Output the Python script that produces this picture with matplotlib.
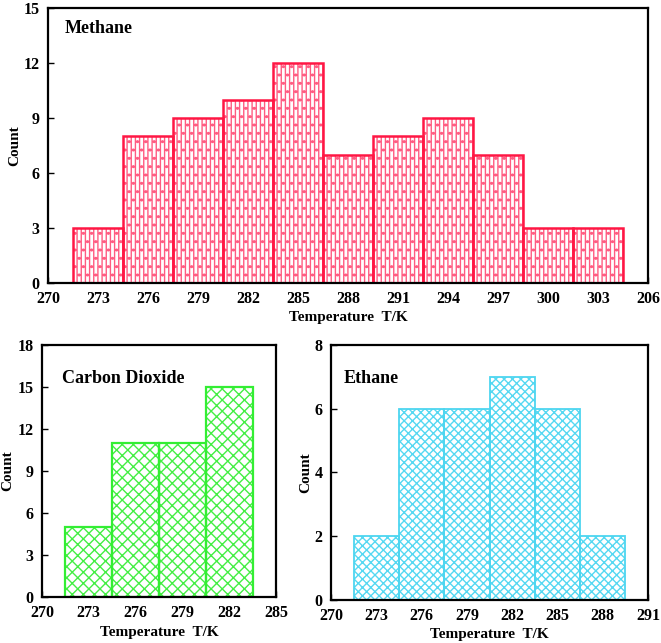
import matplotlib
matplotlib.use("Agg")
import matplotlib.pyplot as plt

plt.rcParams['font.family'] = ['Liberation Serif', 'DejaVu Serif']
plt.rcParams['font.weight'] = 'bold'
plt.rcParams['hatch.linewidth'] = 1.0

# Data
methane_temps = [273, 276, 279, 282, 285, 288, 291, 294, 297, 300, 303]
methane_counts = [3, 8, 9, 10, 12, 7, 8, 9, 7, 3, 3]
methane_xticks = [270, 273, 276, 279, 282, 285, 288, 291, 294, 297, 300, 303, 306]
methane_xticklabels = ['270', '273', '276', '279', '282', '285', '288', '291', '294', '297', '300', '303', '206']
methane_yticks = [0, 3, 6, 9, 12, 15]

co2_temps = [273, 276, 279, 282]
co2_counts = [5, 11, 11, 15]
co2_xticks = [270, 273, 276, 279, 282, 285]
co2_yticks = [0, 3, 6, 9, 12, 15, 18]

ethane_temps = [273, 276, 279, 282, 285, 288]
ethane_counts = [2, 6, 6, 7, 6, 2]
ethane_xticks = [270, 273, 276, 279, 282, 285, 288, 291]
ethane_yticks = [0, 2, 4, 6, 8]

BIN = 3

fig = plt.figure(figsize=(6.61, 6.43), dpi=100)

def panel(rect, temps, counts, xticks, xlabels, yticks, edge, hcolor, hatch, elw,
          name, name_xy):
    ax = fig.add_axes(rect)
    ax.bar(temps, counts, width=BIN, facecolor='white', edgecolor=hcolor,
           hatch=hatch, linewidth=0, zorder=2)
    ax.bar(temps, counts, width=BIN, fill=False, edgecolor=edge,
           linewidth=elw, zorder=3)
    ax.set_xlim(xticks[0], xticks[-1])
    ax.set_ylim(yticks[0], yticks[-1])
    ax.set_xticks(xticks)
    ax.set_xticklabels(xlabels)
    ax.set_yticks(yticks)
    ax.tick_params(direction='in', length=4, width=1, labelsize=11.5, pad=6)
    for lbl in ax.get_xticklabels() + ax.get_yticklabels():
        lbl.set_fontweight('bold')
    for s in ax.spines.values():
        s.set_linewidth(1.6)
        s.set_zorder(4)
    ax.set_xlabel('Temperature  T/K', fontsize=11, fontweight='bold', labelpad=3)
    ax.set_ylabel('Count', fontsize=11, fontweight='bold', labelpad=2)
    ax.text(name_xy[0], name_xy[1], name, transform=ax.transAxes,
            fontsize=13, fontweight='bold', va='center', ha='left')
    return ax

panel([0.0726, 0.5599, 0.9078, 0.4277], methane_temps, methane_counts,
      methane_xticks, methane_xticklabels, methane_yticks,
      '#FF1744', '#FF5C82', '||||..', 1.8, 'Methane', (0.027, 0.925))
panel([0.0635, 0.0715, 0.354, 0.392], co2_temps, co2_counts,
      co2_xticks, [str(t) for t in co2_xticks], co2_yticks,
      '#33EE33', '#44EE44', 'xxx', 1.6, 'Carbon Dioxide', (0.085, 0.865))
panel([0.5008, 0.0669, 0.4796, 0.3966], ethane_temps, ethane_counts,
      ethane_xticks, [str(t) for t in ethane_xticks], ethane_yticks,
      '#4DD6F0', '#55D8F2', 'xxxx', 1.3, 'Ethane', (0.04, 0.87))

fig.savefig('out.png', dpi=100)
